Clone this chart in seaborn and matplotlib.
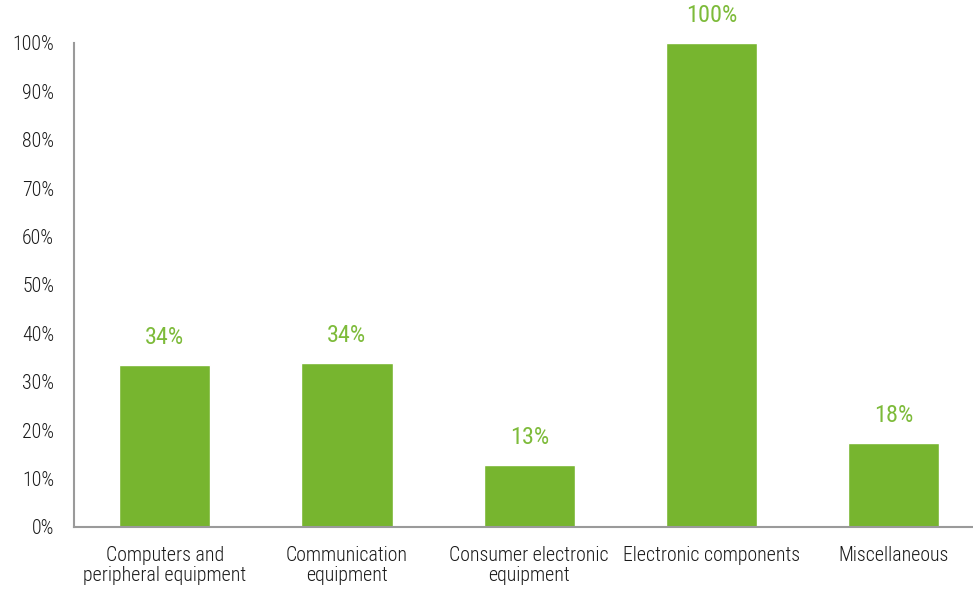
import matplotlib
matplotlib.use("Agg")
import matplotlib.pyplot as plt
import seaborn as sns
import pandas as pd

categories = ["Computers and\nperipheral equipment", "Communication\nequipment",
              "Consumer electronic\nequipment", "Electronic components", "Miscellaneous"]
values = [33.5, 33.9, 12.8, 100.0, 17.4]
labels = ["34%", "34%", "13%", "100%", "18%"]
yticks = [0, 10, 20, 30, 40, 50, 60, 70, 80, 90, 100]

sns.set_style("white")
plt.rcParams["font.family"] = ["Roboto Condensed", "DejaVu Sans"]

df = pd.DataFrame({"cat": categories, "val": values})

fig = plt.figure(figsize=(9.73, 5.89), dpi=100)
W, H = 973, 589
ax = fig.add_axes([73.5 / W, (H - 527) / H, (985 - 73.5) / W, (527 - 43) / H])
green = "#77B52F"
sns.barplot(data=df, x="cat", y="val", color=green, width=0.5, saturation=1, ax=ax)

ax.set_xlim(-0.5, 4.5)
ax.set_ylim(0, 100)
ax.set_yticks(yticks)
ax.set_yticklabels([f"{t}%" for t in yticks])
ax.set_xlabel("")
ax.set_ylabel("")
ax.tick_params(axis="both", length=0, labelsize=14.3, colors="#1a1a1a")
ax.tick_params(axis="y", pad=14)
ax.tick_params(axis="x", pad=14)
for t in ax.get_xticklabels() + ax.get_yticklabels():
    t.set_fontweight("light")
for t in ax.get_xticklabels():
    t.set_linespacing(1.05)
for s in ["top", "right"]:
    ax.spines[s].set_visible(False)
for s in ["left", "bottom"]:
    ax.spines[s].set_color("#9a9a9a")
    ax.spines[s].set_linewidth(1.5)

for i, (v, lab) in enumerate(zip(values, labels)):
    ax.annotate(lab, (i, v), xytext=(0, 20), textcoords="offset points",
                ha="center", va="center", color="#7DBB3A", fontsize=17.5,
                fontweight="normal", annotation_clip=False)

fig.savefig("out.png", dpi=100)
